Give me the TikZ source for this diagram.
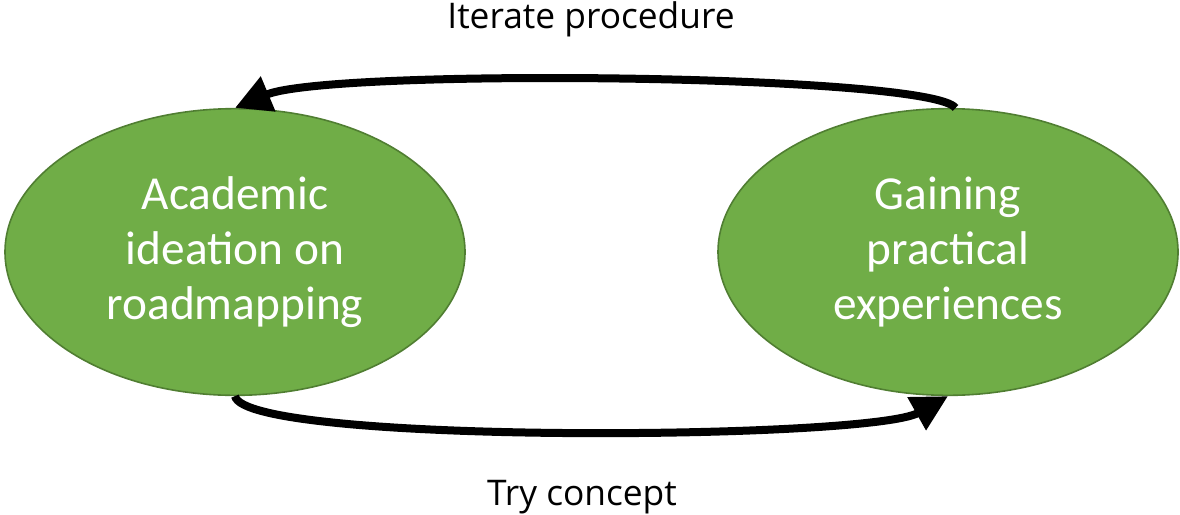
\documentclass[tikz,border=0pt]{standalone}
\usepackage{fontspec}
\setmainfont{Carlito}
\newfontfamily\labelfont{Open Sans}
\usetikzlibrary{shapes.geometric,arrows.meta}
\definecolor{leaf}{HTML}{70AD47}
\definecolor{leafedge}{HTML}{507E32}
\begin{document}
\begin{tikzpicture}[x=0.75pt,y=-0.75pt,
  stage/.style={ellipse, fill=leaf, draw=leafedge, line width=1.2pt,
    minimum width=345pt, minimum height=215pt, inner sep=0pt,
    text=white, align=center,
    font=\fontsize{35.5pt}{41pt}\selectfont},
  loop/.style={line width=6pt, -{Triangle[length=27pt,width=27pt]}},
  tag/.style={anchor=base, font=\labelfont\fontsize{26.5pt}{31pt}\selectfont}]
  \useasboundingbox (0,0) rectangle (1180,514);
  % the two stages
  \node[stage] (L) at (235,252) {Academic\\ideation on\\roadmapping};
  \node[stage] (R) at (948,252) {Gaining\\practical\\experiences};
  % feedback loop between them
  \draw[loop] (R.87) .. controls (930,74) and (330,68) .. (L.north);
  \draw[loop] (L.south) .. controls (245,445) and (870,440) .. (R.south);
  % loop labels
  \node[tag] (it) at (591,28) {Iterate procedure};
  \node[tag] (tc) at (582,505) {Try concept};
\end{tikzpicture}
\end{document}
